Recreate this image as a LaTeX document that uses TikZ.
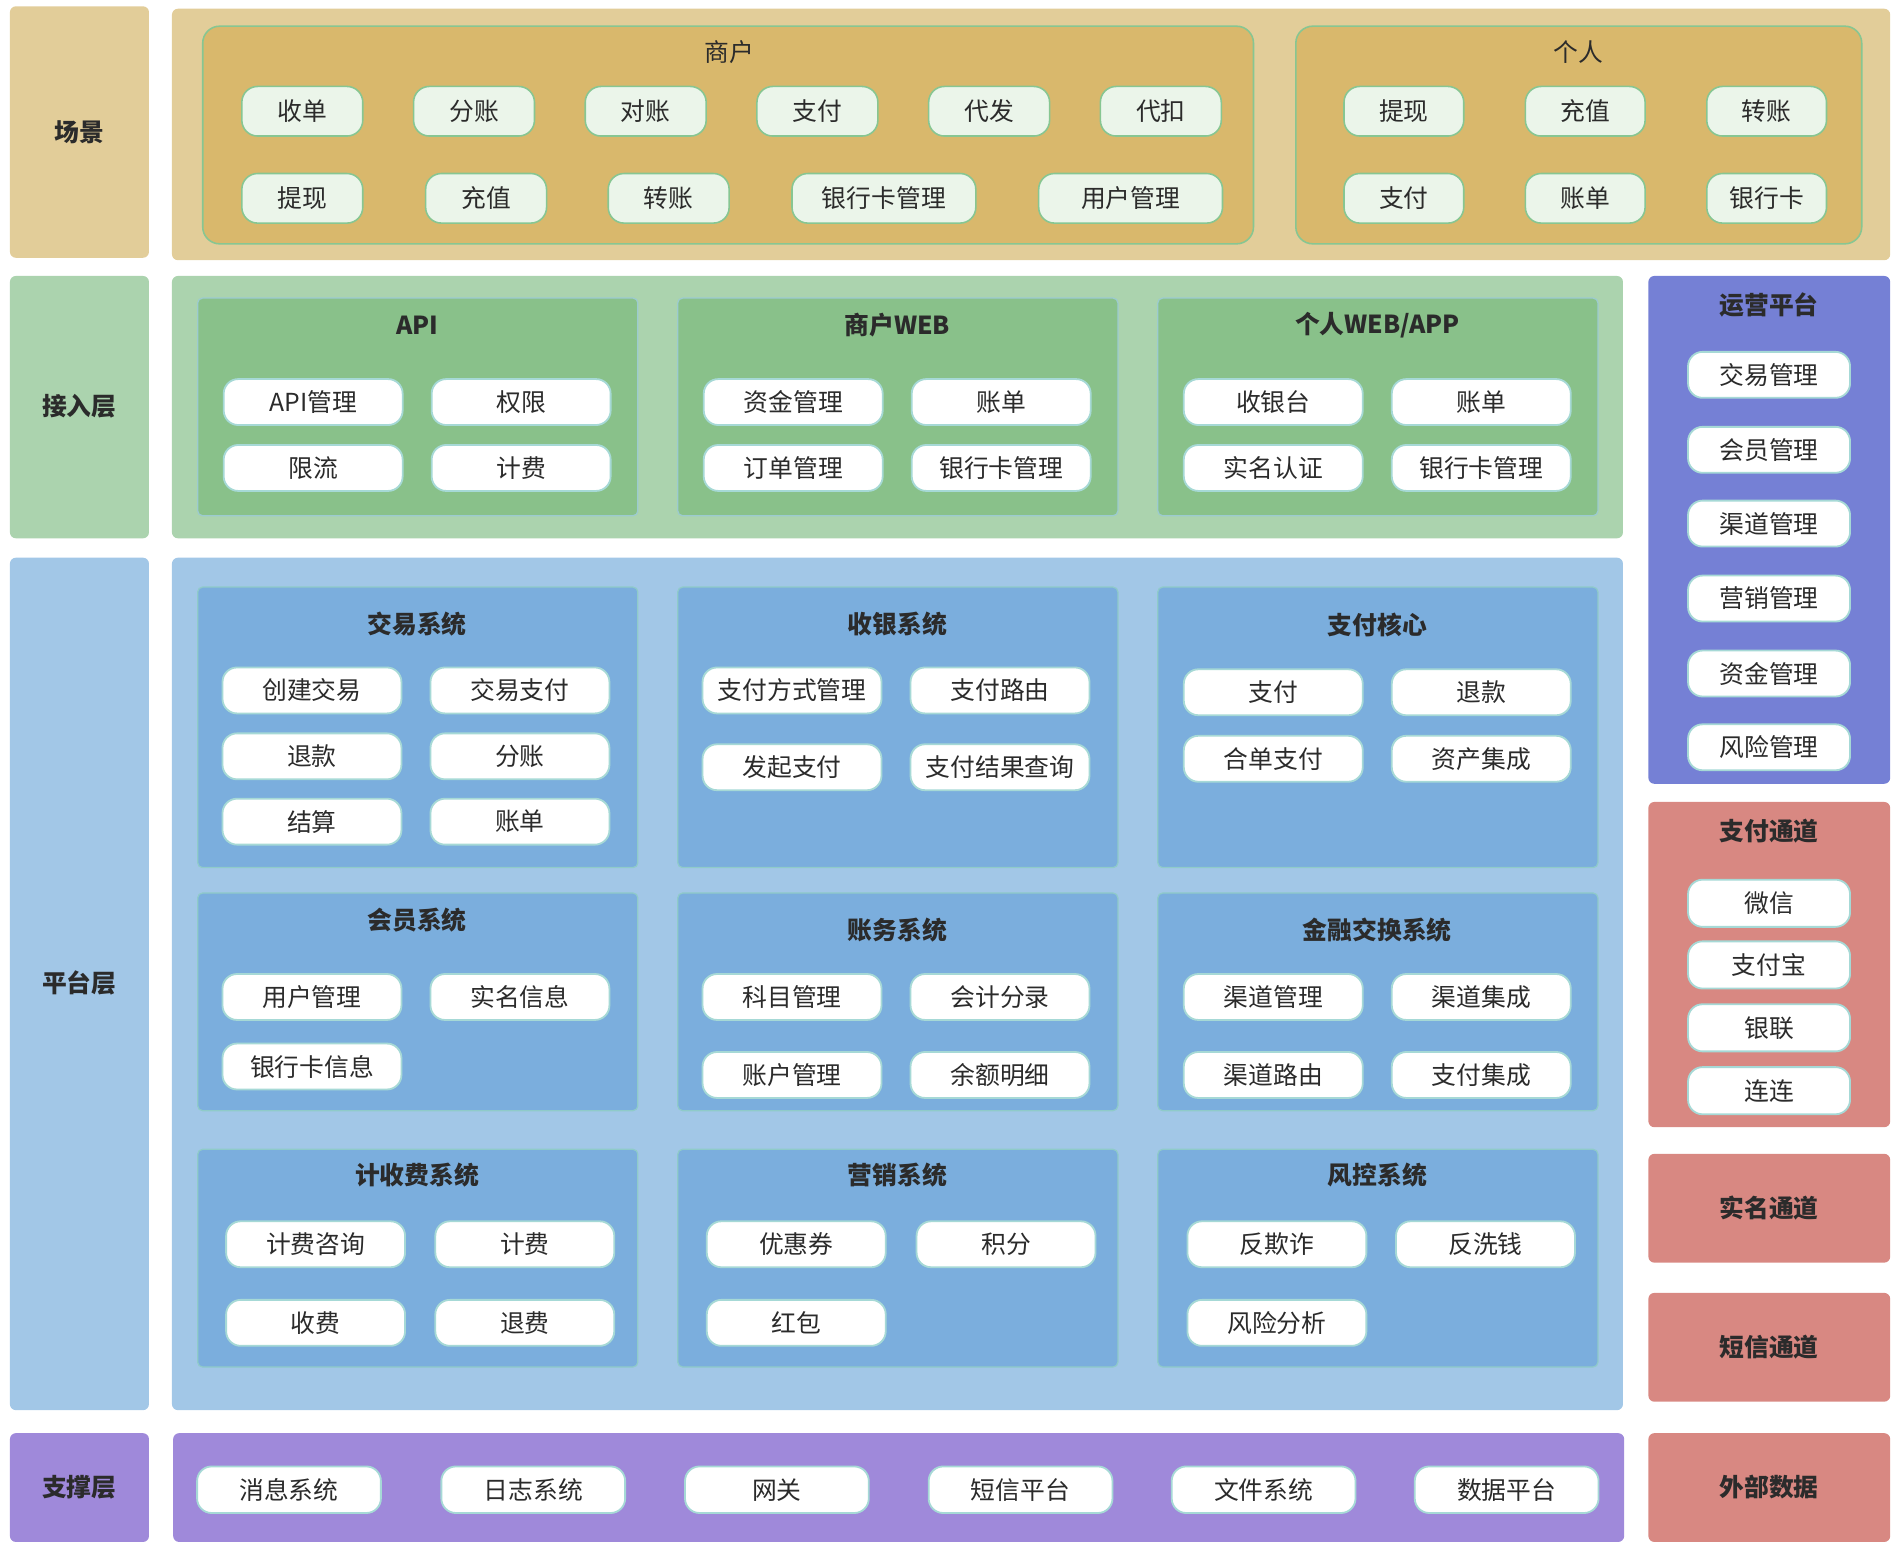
\documentclass[tikz,border=0pt]{standalone}
\usepackage{fontspec}
\setmainfont{Noto Sans CJK SC}
\definecolor{txt}{HTML}{2B2B2B}
\definecolor{scnA}{HTML}{E2CD99}
\definecolor{scnB}{HTML}{D9B86C}
\definecolor{scnItem}{HTML}{EBF5EA}
\definecolor{grnLine}{HTML}{87C692}
\definecolor{accA}{HTML}{ABD3AE}
\definecolor{accB}{HTML}{89C18A}
\definecolor{accLine}{HTML}{9CCBD0}
\definecolor{pltA}{HTML}{A2C7E7}
\definecolor{pltB}{HTML}{7BAEDD}
\definecolor{pltLine}{HTML}{8FCBC9}
\definecolor{itemLine}{HTML}{A6D9D6}
\definecolor{supA}{HTML}{9F89DA}
\definecolor{opsA}{HTML}{7580D5}
\definecolor{redA}{HTML}{D88882}
\tikzset{
  x=1pt,y=-1pt,
  every node/.style={inner sep=0pt, text=txt, font=\fontsize{20.5}{24}\selectfont},
  band/.style={rounded corners=5pt, draw=none, anchor=north west},
  lbl/.style={font=\fontsize{20.5}{24}\selectfont\bfseries},
  ttl/.style={font=\fontsize{20.5}{24}\selectfont\bfseries},
  scnbox/.style={rounded corners=14pt, fill=scnB, draw=grnLine, line width=1.3pt, anchor=north west},
  accbox/.style={rounded corners=4pt, fill=accB, draw=accLine, line width=1pt, anchor=north west},
  pltbox/.style={rounded corners=4pt, fill=pltB, draw=pltLine, line width=1pt, anchor=north west},
  sitem/.style={rounded corners=13pt, fill=scnItem, draw=grnLine, line width=1.3pt, minimum height=41pt},
  witem/.style={rounded corners=12pt, fill=white, draw=itemLine, line width=1.5pt, minimum height=38pt, minimum width=148pt},
}
\newcommand{\bandbox}[6]{\node[band, fill=#2, minimum width=#5-#3, minimum height=#6-#4] (#1) at (#3,#4) {};}
\begin{document}
\begin{tikzpicture}
\useasboundingbox (0,0) rectangle (1568,1282);
% ---------- layer labels ----------
\bandbox{lScene}{scnA}{8}{5}{123}{213}
\node[lbl] (tScene) at (65.5,109) {场景};
\bandbox{lAcc}{accA}{8}{228}{123}{445}
\node[lbl] (tAcc) at (65.5,336) {接入层};
\bandbox{lPlt}{pltA}{8}{461}{123}{1166}
\node[lbl] (tPlt) at (65.5,813) {平台层};
\bandbox{lSup}{supA}{8}{1185}{123}{1275}
\node[lbl] (tSup) at (65.5,1230) {支撑层};
% ---------- main bands ----------
\bandbox{bScene}{scnA}{142}{7}{1563}{215}
\bandbox{bAcc}{accA}{142}{228}{1342}{445}
\bandbox{bPlt}{pltA}{142}{461}{1342}{1166}
\bandbox{bSup}{supA}{143}{1185}{1343}{1275}
% ---------- right column ----------
\bandbox{bOps}{opsA}{1363}{228}{1563}{648}
\node[lbl] (tOps) at (1463,252) {运营平台};
\bandbox{bPay}{redA}{1363}{663}{1563}{932}
\node[lbl] (tPay) at (1463,687) {支付通道};
\bandbox{bReal}{redA}{1363}{954}{1563}{1044}
\node[lbl] (tReal) at (1463,999) {实名通道};
\bandbox{bSms}{redA}{1363}{1069}{1563}{1159}
\node[lbl] (tSms) at (1463,1114) {短信通道};
\bandbox{bExt}{redA}{1363}{1185}{1563}{1275}
\node[lbl] (tExt) at (1463,1230) {外部数据};
\foreach \n/\t/\y in {o1/交易管理/310, o2/会员管理/372, o3/渠道管理/433, o4/营销管理/495, o5/资金管理/557, o6/风险管理/618}
  \node[witem, minimum width=134pt] (\n) at (1463,\y) {\t};
\foreach \n/\t/\y in {p1/微信/747, p2/支付宝/798, p3/银联/850, p4/连连/902}
  \node[witem, minimum width=134pt, minimum height=39pt] (\n) at (1463,\y) {\t};
% ---------- scene ----------
\node[scnbox, minimum width=869pt, minimum height=180pt] (mch) at (167,21) {};
\node (tMch) at (603,43) {商户};
\node[scnbox, minimum width=468pt, minimum height=180pt] (per) at (1071,21) {};
\node (tPer) at (1305,43) {个人};
\foreach \n/\t/\x in {s1/收单/250, s2/分账/392, s3/对账/534, s4/支付/676, s5/代发/818, s6/代扣/960}
  \node[sitem, minimum width=100pt] (\n) at (\x,92) {\t};
\node[sitem, minimum width=100pt] (s7) at (250,164) {提现};
\node[sitem, minimum width=100pt] (s8) at (402,164) {充值};
\node[sitem, minimum width=100pt] (s9) at (553,164) {转账};
\node[sitem, minimum width=152pt] (s10) at (731,164) {银行卡管理};
\node[sitem, minimum width=152pt] (s11) at (935,164) {用户管理};
\foreach \n/\t/\x in {q1/提现/1161, q2/充值/1311, q3/转账/1461}
  \node[sitem, minimum width=99pt] (\n) at (\x,92) {\t};
\foreach \n/\t/\x in {q4/支付/1161, q5/账单/1311, q6/银行卡/1461}
  \node[sitem, minimum width=99pt] (\n) at (\x,164) {\t};
% ---------- access layer ----------
\node[accbox, minimum width=364pt, minimum height=180pt] (api) at (163,246) {};
\node[ttl] (tApi) at (345,269) {API};
\node[accbox, minimum width=364pt, minimum height=180pt] (mweb) at (560,246) {};
\node[ttl] (tMweb) at (742,269) {商户WEB};
\node[accbox, minimum width=364pt, minimum height=180pt] (pweb) at (957,246) {};
\node[ttl] (tPweb) at (1139,269) {个人WEB/APP};
\node[witem] (a1) at (259,332.5) {API管理};
\node[witem] (a2) at (431,332.5) {权限};
\node[witem] (a3) at (259,387) {限流};
\node[witem] (a4) at (431,387) {计费};
\node[witem] (m1) at (656,332.5) {资金管理};
\node[witem] (m2) at (828,332.5) {账单};
\node[witem] (m3) at (656,387) {订单管理};
\node[witem] (m4) at (828,387) {银行卡管理};
\node[witem] (w1) at (1053,332.5) {收银台};
\node[witem] (w2) at (1225,332.5) {账单};
\node[witem] (w3) at (1053,387) {实名认证};
\node[witem] (w4) at (1225,387) {银行卡管理};
% ---------- platform layer ----------
\node[pltbox, minimum width=364pt, minimum height=232pt] (trd) at (163,485) {};
\node[ttl] (tTrd) at (345,516) {交易系统};
\node[pltbox, minimum width=364pt, minimum height=232pt] (csh) at (560,485) {};
\node[ttl] (tCsh) at (742,516) {收银系统};
\node[pltbox, minimum width=364pt, minimum height=232pt] (core) at (957,485) {};
\node[ttl] (tCore) at (1139,517) {支付核心};
\node[witem] (t1) at (258,571) {创建交易};
\node[witem] (t2) at (430,571) {交易支付};
\node[witem] (t3) at (258,625.5) {退款};
\node[witem] (t4) at (430,625.5) {分账};
\node[witem] (t5) at (258,679.5) {结算};
\node[witem] (t6) at (430,679.5) {账单};
\node[witem] (c1) at (655,571) {支付方式管理};
\node[witem] (c2) at (827,571) {支付路由};
\node[witem] (c3) at (655,634.5) {发起支付};
\node[witem] (c4) at (827,634.5) {支付结果查询};
\node[witem] (k1) at (1053,572.5) {支付};
\node[witem] (k2) at (1225,572.5) {退款};
\node[witem] (k3) at (1053,627.5) {合单支付};
\node[witem] (k4) at (1225,627.5) {资产集成};
%
\node[pltbox, minimum width=364pt, minimum height=180pt] (mem) at (163,738) {};
\node[ttl] (tMem) at (345,761) {会员系统};
\node[pltbox, minimum width=364pt, minimum height=180pt] (acct) at (560,738) {};
\node[ttl] (tAcct) at (742,769) {账务系统};
\node[pltbox, minimum width=364pt, minimum height=180pt] (fin) at (957,738) {};
\node[ttl] (tFin) at (1139,769) {金融交换系统};
\node[witem] (e1) at (258,824.5) {用户管理};
\node[witem] (e2) at (430,824.5) {实名信息};
\node[witem] (e3) at (258,882) {银行卡信息};
\node[witem] (f1) at (655,824.5) {科目管理};
\node[witem] (f2) at (827,824.5) {会计分录};
\node[witem] (f3) at (655,889) {账户管理};
\node[witem] (f4) at (827,889) {余额明细};
\node[witem] (g1) at (1053,824.5) {渠道管理};
\node[witem] (g2) at (1225,824.5) {渠道集成};
\node[witem] (g3) at (1053,889) {渠道路由};
\node[witem] (g4) at (1225,889) {支付集成};
%
\node[pltbox, minimum width=364pt, minimum height=180pt] (fee) at (163,950) {};
\node[ttl] (tFee) at (345,972) {计收费系统};
\node[pltbox, minimum width=364pt, minimum height=180pt] (mkt) at (560,950) {};
\node[ttl] (tMkt) at (742,972) {营销系统};
\node[pltbox, minimum width=364pt, minimum height=180pt] (risk) at (957,950) {};
\node[ttl] (tRisk) at (1139,972) {风控系统};
\node[witem] (h1) at (261,1029) {计费咨询};
\node[witem] (h2) at (434,1029) {计费};
\node[witem] (h3) at (261,1094) {收费};
\node[witem] (h4) at (434,1094) {退费};
\node[witem] (i1) at (658.5,1029) {优惠券};
\node[witem] (i2) at (832,1029) {积分};
\node[witem] (i3) at (658.5,1094) {红包};
\node[witem] (j1) at (1056,1029) {反欺诈};
\node[witem] (j2) at (1228.5,1029) {反洗钱};
\node[witem] (j3) at (1056,1094) {风险分析};
% ---------- support layer ----------
\foreach \n/\t/\x in {u1/消息系统/239, u2/日志系统/441, u3/网关/642.5, u4/短信平台/844, u5/文件系统/1045, u6/数据平台/1246}
  \node[witem, minimum width=152pt, minimum height=38.5pt] (\n) at (\x,1232) {\t};
\end{tikzpicture}
\end{document}
